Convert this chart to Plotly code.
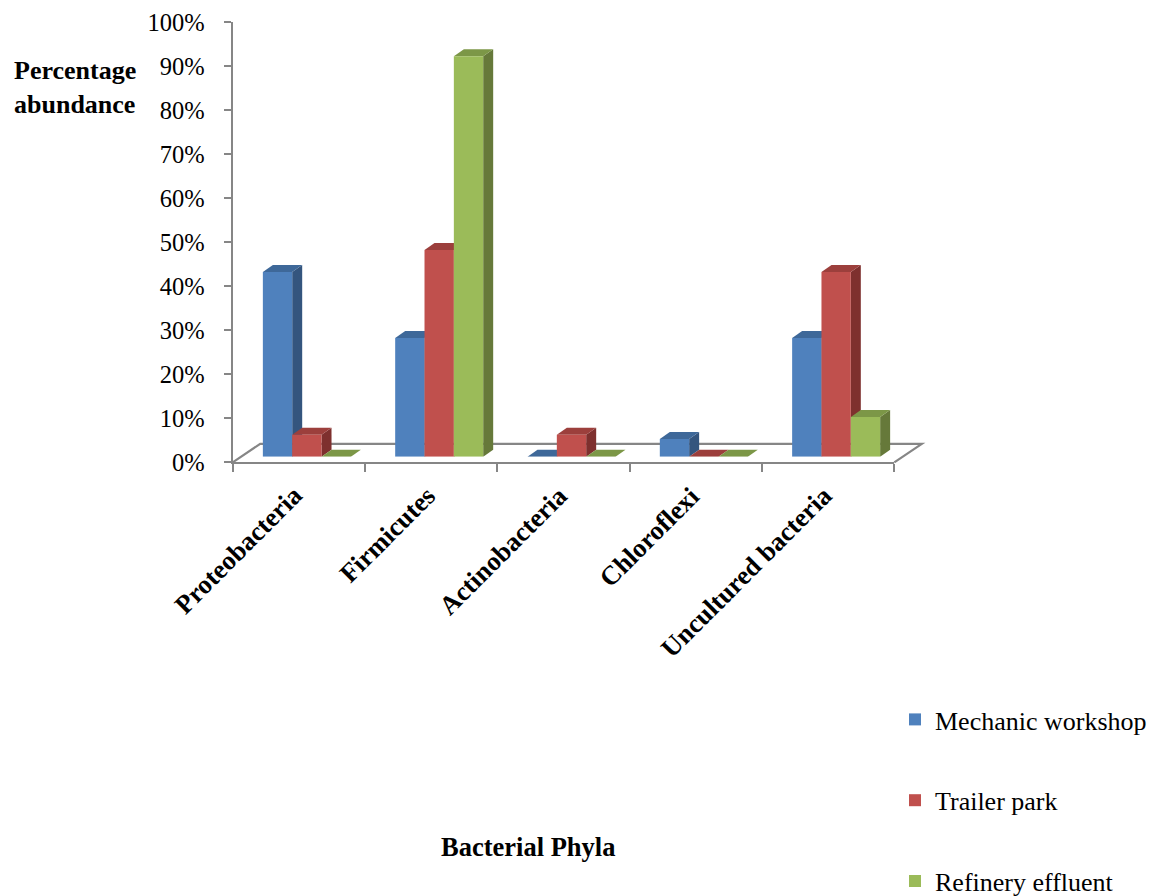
import plotly.graph_objects as go

# ---- data -------------------------------------------------------------
phyla = ["Proteobacteria", "Firmicutes", "Actinobacteria", "Chloroflexi", "Uncultured bacteria"]
series_names = ["Mechanic workshop", "Trailer park", "Refinery effluent"]
mechanic_workshop = [0.42, 0.27, 0.00, 0.04, 0.27]
trailer_park = [0.05, 0.47, 0.05, 0.00, 0.42]
refinery_effluent = [0.00, 0.91, 0.00, 0.00, 0.09]
y_tick_values = [0.0, 0.1, 0.2, 0.3, 0.4, 0.5, 0.6, 0.7, 0.8, 0.9, 1.0]
y_tick_labels = ["0%", "10%", "20%", "30%", "40%", "50%", "60%", "70%", "80%", "90%", "100%"]

# ---- styling ----------------------------------------------------------
FRONT = ["#4F81BD", "#C0504D", "#9BBB59"]
TOP = ["#3E6899", "#9C3F3C", "#7C9747"]
SIDE = ["#34557E", "#7E302E", "#66793A"]
AXIS_GREY = "#868686"
SERIF = "Liberation Serif, Times New Roman, serif"

FIG_W, FIG_H = 1155, 896
# front plane of the value axis (pixels)
FX0, FX1 = 232.7, 894.3
FY_BOTTOM, FY_TOP = 462.3, 22.3
# bars stand a little behind the front edge of the floor
BAR_SHIFT_X, BAR_SHIFT_Y = 8.0, 5.6
# depth of a bar and of the floor, in pixels
BAR_DX, BAR_DY = 10.0, 7.0
FLOOR_DX, FLOOR_DY = 27.5, 18.5
BARGAP = 0.335

n_cat = len(phyla)


def fx(p):
    return p / FIG_W


def fy(p):
    return 1 - p / FIG_H


fig = go.Figure()

# anchor trace so the front (axis) subplot is built
fig.add_trace(go.Scatter(
    x=[0], y=[0], mode="markers", marker=dict(opacity=0),
    xaxis="x", yaxis="y", showlegend=False, hoverinfo="skip",
))

series = [mechanic_workshop, trailer_park, refinery_effluent]
for name, vals, col in zip(series_names, series, FRONT):
    fig.add_trace(go.Bar(
        x=list(range(n_cat)), y=vals, name=name,
        marker=dict(color=col, line=dict(width=0)),
        xaxis="x2", yaxis="y2", legendgroup=name,
    ))

# ---- 3-D faces (top and right side) of each bar -------------------------
unit_x = n_cat / (FX1 - FX0)          # category units per pixel
unit_y = 1.0 / (FY_BOTTOM - FY_TOP)   # value units per pixel
ddx, ddy = BAR_DX * unit_x, BAR_DY * unit_y
w = (1 - BARGAP) / len(series)

shapes = []
# floor outline behind the bars
fdx = FLOOR_DX / (FX1 - FX0)
fdy = FLOOR_DY / (FY_BOTTOM - FY_TOP)
shapes.append(dict(
    type="path", xref="x domain", yref="y domain", layer="below",
    path=f"M0,0 L{fdx},{fdy} L{1 + fdx},{fdy} L1,0",
    line=dict(color=AXIS_GREY, width=2.2),
))

for i in range(n_cat):
    for j, vals in enumerate(series):
        v = vals[i]
        left = i - 1.5 * w + j * w
        right = left + w
        if v > 0:
            shapes.append(dict(
                type="path", xref="x2", yref="y2", layer="below",
                path=(f"M{right},0 L{right + ddx},{ddy} "
                      f"L{right + ddx},{v + ddy} L{right},{v} Z"),
                fillcolor=SIDE[j], line=dict(width=0),
            ))
        shapes.append(dict(
            type="path", xref="x2", yref="y2", layer="below",
            path=(f"M{left},{v} L{right},{v} "
                  f"L{right + ddx},{v + ddy} L{left + ddx},{v + ddy} Z"),
            fillcolor=TOP[j], line=dict(width=0),
        ))

# ---- category labels --------------------------------------------------
annotations = []
for i, name in enumerate(phyla):
    annotations.append(dict(
        x=i, xref="x2", y=fy(478), yref="paper",
        text=name, textangle=-45, showarrow=False,
        xanchor="right", yanchor="top", xshift=4,
        font=dict(family=SERIF, size=26.5, color="black", weight="bold"),
    ))

annotations.append(dict(
    x=fx(12), y=fy(87), xref="paper", yref="paper",
    text="Percentage<br>abundance", showarrow=False, align="left",
    xanchor="left", yanchor="middle",
    font=dict(family=SERIF, size=26, color="black", weight="bold"),
))
annotations.append(dict(
    x=fx(528), y=fy(847), xref="paper", yref="paper",
    text="Bacterial Phyla", showarrow=False,
    xanchor="center", yanchor="middle",
    font=dict(family=SERIF, size=26.5, color="black", weight="bold"),
))

fig.update_layout(
    width=FIG_W, height=FIG_H,
    margin=dict(l=0, r=0, t=0, b=0, autoexpand=False),
    paper_bgcolor="white", plot_bgcolor="rgba(0,0,0,0)",
    barmode="group", bargap=BARGAP, bargroupgap=0,
    showlegend=True,
    legend=dict(
        xref="container", yref="container",
        x=fx(895), y=fy(696), xanchor="left", yanchor="top",
        font=dict(family=SERIF, size=26, color="black"),
        tracegroupgap=44, bgcolor="rgba(0,0,0,0)",
    ),
    xaxis=dict(
        domain=[fx(FX0), fx(FX1)], range=[-0.5, n_cat - 0.5],
        tickvals=[k - 0.5 for k in range(n_cat + 1)], showticklabels=False,
        ticks="outside", ticklen=8, tickwidth=2, tickcolor=AXIS_GREY,
        showline=True, linecolor=AXIS_GREY, linewidth=2.2,
        showgrid=False, zeroline=False, anchor="y", fixedrange=True,
    ),
    yaxis=dict(
        domain=[fy(FY_BOTTOM), fy(FY_TOP)], range=[0, 1],
        tickvals=y_tick_values, ticktext=y_tick_labels,
        ticks="outside", ticklen=7, tickwidth=2, tickcolor=AXIS_GREY,
        showline=True, linecolor=AXIS_GREY, linewidth=2.2,
        showgrid=False, zeroline=False, anchor="x", ticklabelstandoff=14,
        tickfont=dict(family=SERIF, size=24.5, color="black"), fixedrange=True,
    ),
    xaxis2=dict(
        domain=[fx(FX0 + BAR_SHIFT_X), fx(FX1 + BAR_SHIFT_X)],
        range=[-0.5, n_cat - 0.5], visible=False, anchor="y2", fixedrange=True,
    ),
    yaxis2=dict(
        domain=[fy(FY_BOTTOM - BAR_SHIFT_Y), fy(FY_TOP - BAR_SHIFT_Y)],
        range=[0, 1], visible=False, anchor="x2", fixedrange=True,
    ),
    shapes=shapes,
    annotations=annotations,
)

fig.write_html("out.html")
